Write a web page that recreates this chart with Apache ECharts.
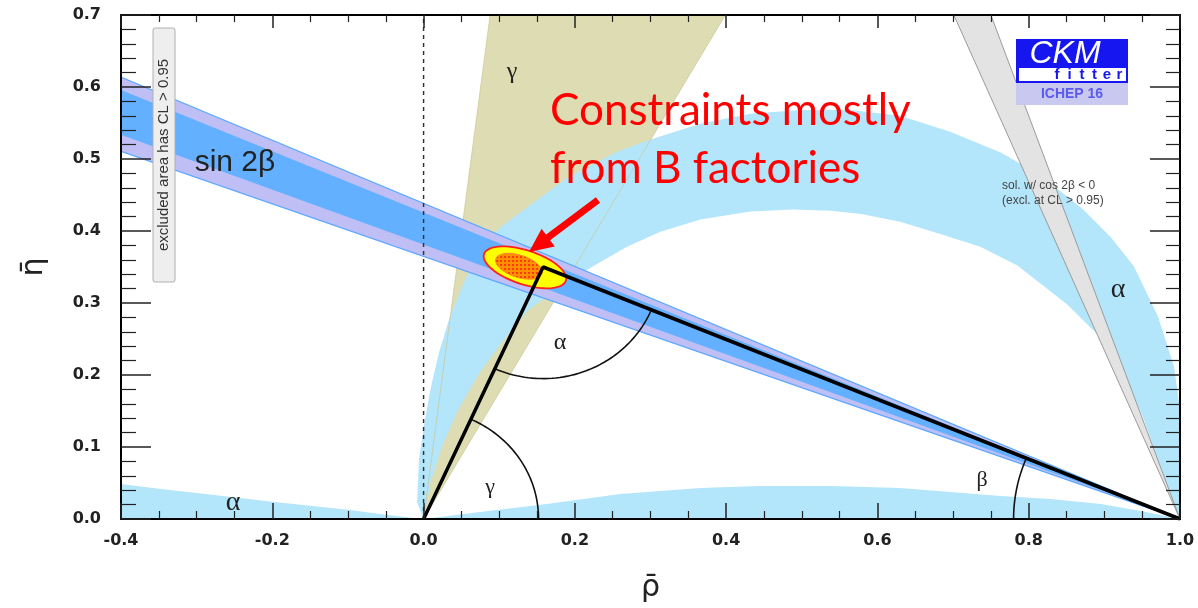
<!DOCTYPE html>
<html><head><meta charset="utf-8">
<script src="https://cdn.jsdelivr.net/npm/echarts@6/dist/echarts.min.js"></script>
<style>html,body{margin:0;padding:0;background:#fff}#c{width:1198px;height:608px}</style>
</head><body><div id="c"></div><script>
// ---- data (rho-bar, eta-bar) ----
const xTickLabels = ['-0.4','-0.2','0.0','0.2','0.4','0.6','0.8','1.0'];
const yTickLabels = ['0.0','0.1','0.2','0.3','0.4','0.5','0.6','0.7'];

const gammaWedge = [[0,0],[0.088,0.7],[0.399,0.7]];
const alphaOuter = [[0,0],[-0.0086,0.0236],[-0.006,0.083],[0.002,0.139],[0.0099,0.184],[0.0205,0.2315],[0.0337,0.277],[0.051,0.323],[0.0721,0.370],[0.101,0.405],[0.1276,0.4256],[0.190,0.474],[0.256,0.510],[0.303,0.528],[0.366,0.549],[0.432,0.563],[0.498,0.568],[0.564,0.568],[0.630,0.560],[0.696,0.538],[0.763,0.509],[0.816,0.477],[0.872,0.430],[0.908,0.392],[0.939,0.351],[0.971,0.281],[0.992,0.212],[1.0,0.152]];
const alphaInner = [[1.0,0.0],[0.996,0.010],[0.978,0.060],[0.952,0.139],[0.925,0.204],[0.895,0.252],[0.851,0.298],[0.785,0.352],[0.736,0.378],[0.683,0.396],[0.630,0.413],[0.577,0.424],[0.538,0.428],[0.489,0.430],[0.432,0.427],[0.366,0.416],[0.313,0.399],[0.269,0.378],[0.224,0.351],[0.177,0.320],[0.138,0.290],[0.107,0.250],[0.072,0.200],[0.045,0.150],[0.024,0.100],[0.009,0.050],[0,0]];
const alphaLens = [[0,0],[0.0747,0.0097],[0.163,0.0208],[0.260,0.0347],[0.366,0.043],[0.445,0.0457],[0.538,0.0457],[0.630,0.043],[0.696,0.0374],[0.763,0.032],[0.829,0.0277],[0.895,0.0208],[0.948,0.011],[1.0,0]];
const alphaLeft = [[-0.4,0],[-0.4,0.0485],[-0.35,0.042],[-0.3,0.036],[-0.2,0.024],[-0.1,0.013],[-0.05,0.006],[0,0]];
const graySol = [[1,0],[0.701,0.7],[0.750,0.7]];
const sin2bOuter = [[1,0],[-0.4,0.6137],[-0.4,0.5106]];
const sin2bInner = [[1,0],[-0.4,0.596],[-0.4,0.5337]];
const triangle = [[0,0],[0.158,0.350],[1,0]];
const zeroLine = [[0,0],[0,0.7]];
const fitCenter = [0.134, 0.3495];      // 95% CL ellipse centre
const fitAxes = [0.0569, 0.0225];       // semi-axes (rho units)
const fitCore = [0.126, 0.351];         // 68% CL core centre
const fitCoreAxes = [0.032, 0.0146];
const fitTilt = 18;                     // degrees
const arcRadii = {gamma:0.152, alpha:0.155, beta:0.22};

// ---- helpers ----
function poly(name, pts, fill, stroke, lw, z) {
  return {type:'custom', name, z, silent:true, clip:true, data:[[0,0]],
    renderItem:(p, api) => ({type:'polygon', shape:{points: pts.map(q => api.coord(q))},
      style:{fill, stroke: stroke || null, lineWidth: lw || 0}})};
}
function ang(a, b){ return Math.atan2(b[1]-a[1], b[0]-a[0]); }
function arc(center, r, a0, a1, z) {
  return {type:'custom', z, silent:true, clip:true, data:[[0,0]],
    renderItem:(p, api) => {
      const pts = [];
      for (let i = 0; i <= 48; i++) {
        const t = a0 + (a1 - a0) * i / 48;
        pts.push(api.coord([center[0] + r*Math.cos(t), center[1] + r*Math.sin(t)]));
      }
      return {type:'polyline', shape:{points:pts}, style:{stroke:'#111', lineWidth:1.6, fill:null}};
    }};
}
const pat = document.createElement('canvas'); pat.width = 4; pat.height = 4;
(function(){ const g = pat.getContext('2d'); g.fillStyle='#ff9000'; g.fillRect(0,0,4,4); g.fillStyle='#ff3a00'; g.fillRect(0,0,2,2); })();

function ellipsePts(api, c, ax, tiltDeg) {
  const cc = api.coord(c), s = api.size([1,0])[0], phi = tiltDeg*Math.PI/180;
  const rx = ax[0]*s, ry = ax[1]*s, pts = [];
  for (let i = 0; i < 60; i++) {
    const t = 2*Math.PI*i/60;
    pts.push([cc[0] + rx*Math.cos(t)*Math.cos(phi) - ry*Math.sin(t)*Math.sin(phi),
              cc[1] + rx*Math.cos(t)*Math.sin(phi) + ry*Math.sin(t)*Math.cos(phi)]);
  }
  return pts;
}

const O = triangle[0], A = triangle[1], B = triangle[2];
const series = [
  poly('gamma', gammaWedge, '#dedcb3', null, 0, 1),
  poly('alphaLeft', alphaLeft, '#b3e5fb', null, 0, 2),
  poly('alphaLens', alphaLens, '#b3e5fb', null, 0, 2),
  poly('alphaBand', alphaOuter.concat(alphaInner), '#b3e5fb', null, 0, 2),
  {type:'custom', z:3, silent:true, clip:true, data:[[0,0]],
    renderItem:(p, api) => ({type:'group', children:[
      {type:'line', shape:{x1:api.coord(gammaWedge[0])[0], y1:api.coord(gammaWedge[0])[1], x2:api.coord(gammaWedge[1])[0], y2:api.coord(gammaWedge[1])[1]}, style:{stroke:'rgba(200,200,150,0.7)', lineWidth:1}},
      {type:'line', shape:{x1:api.coord(gammaWedge[0])[0], y1:api.coord(gammaWedge[0])[1], x2:api.coord(gammaWedge[2])[0], y2:api.coord(gammaWedge[2])[1]}, style:{stroke:'rgba(200,200,150,0.7)', lineWidth:1}}
    ]})},
  poly('gray', graySol, '#e3e3e3', '#9a9a9a', 1, 4),
  poly('sin2bOuter', sin2bOuter, '#bfbff5', '#5aa8ff', 1.2, 5),
  poly('sin2bInner', sin2bInner, '#62b0ff', null, 0, 6),
  {type:'line', data: zeroLine, symbol:'none', z:7, silent:true,
    lineStyle:{color:'#333', width:1.5, type:[4,4]}},
  {type:'custom', z:8, silent:true, clip:true, data:[[0,0]],
    renderItem:(p, api) => ({type:'group', children:[
      {type:'polygon', shape:{points: ellipsePts(api, fitCenter, fitAxes, fitTilt)}, style:{fill:'#ffff00', stroke:'#ff2020', lineWidth:1.8}},
      {type:'polygon', shape:{points: ellipsePts(api, fitCore, fitCoreAxes, fitTilt)}, style:{fill:{image:pat, repeat:'repeat'}, stroke:'#ff7a30', lineWidth:1}}
    ]})},
  {type:'line', data: triangle, symbol:'none', z:9, silent:true,
    lineStyle:{color:'#000', width:3.5}},
  arc(O, arcRadii.gamma, 0, ang(O, A), 9),
  arc(A, arcRadii.alpha, ang(A, O), ang(A, B), 9),
  arc(B, arcRadii.beta, ang(B, A), Math.PI, 9)
];

const tickLab = {fontFamily:'DejaVu Sans', fontWeight:'bold', fontSize:16, color:'#222'};
const axLine = {show:true, onZero:false, lineStyle:{color:'#000', width:2}};
const option = {
  animation:false,
  grid:{left:121, right:18, top:15, bottom:88, containLabel:false},
  xAxis:[
    {type:'value', min:-0.4, max:1.0, interval:0.2, position:'bottom', z:20,
      axisLine:axLine, splitLine:{show:false},
      axisTick:{show:true, inside:true, length:16, lineStyle:{color:'#222', width:1.5}},
      minorTick:{show:true, splitNumber:4, length:8, lineStyle:{color:'#222', width:1.2}},
      axisLabel:Object.assign({margin:14, formatter:v => xTickLabels[Math.round((v+0.4)/0.2)]}, tickLab),
      name:'\u03C1\u0304', nameLocation:'middle', nameGap:54,
      nameTextStyle:{fontFamily:'DejaVu Sans', fontSize:30, color:'#222'}},
    {type:'value', min:-0.4, max:1.0, interval:0.2, position:'top', z:20,
      axisLine:axLine, splitLine:{show:false}, axisLabel:{show:false},
      axisTick:{show:true, inside:true, length:13, lineStyle:{color:'#222', width:1.5}},
      minorTick:{show:true, splitNumber:4, length:7, lineStyle:{color:'#222', width:1.2}}}
  ],
  yAxis:[
    {type:'value', min:0, max:0.7, interval:0.1, position:'left', z:20,
      axisLine:axLine, splitLine:{show:false},
      axisTick:{show:true, inside:true, length:30, lineStyle:{color:'#222', width:1.5}},
      minorTick:{show:true, splitNumber:5, length:15, lineStyle:{color:'#222', width:1.2}},
      axisLabel:Object.assign({margin:20, formatter:v => yTickLabels[Math.round(v/0.1)]}, tickLab),
      name:'\u03B7\u0304', nameLocation:'middle', nameGap:72, nameRotate:90,
      nameTextStyle:{fontFamily:'DejaVu Sans', fontSize:30, color:'#222'}},
    {type:'value', min:0, max:0.7, interval:0.1, position:'right', z:20,
      axisLine:axLine, splitLine:{show:false}, axisLabel:{show:false},
      axisTick:{show:true, inside:true, length:30, lineStyle:{color:'#222', width:1.5}},
      minorTick:{show:true, splitNumber:5, length:14, lineStyle:{color:'#222', width:1.2}}}
  ],
  series,
  graphic:[]
};

const serif = 'Liberation Serif';
function glabel(t, x, y, size, fam){ return {type:'text', x, y, z:50, silent:true,
  style:{text:t, fontFamily:fam||serif, fontSize:size, fill:'#222', align:'center', verticalAlign:'middle'}}; }
const G = [
  glabel('\u03B3', 490, 487, 22),
  glabel('\u03B1', 560, 343, 24),
  glabel('\u03B2', 982, 480, 22),
  glabel('\u03B1', 1118, 290, 28),
  glabel('\u03B1', 233, 503, 28),
  glabel('\u03B3', 512, 72, 24),
  glabel('sin 2\u03B2', 235, 163, 30, 'Liberation Sans'),
  // excluded-area box
  {type:'rect', z:50, silent:true, shape:{x:153, y:28, width:22, height:254, r:2}, style:{fill:'#eeeeee', stroke:'#b0b0b0', lineWidth:1}},
  {type:'text', z:51, silent:true, x:164, y:155, rotation:Math.PI/2,
    style:{text:'excluded area has CL > 0.95', fontFamily:'Liberation Sans', fontSize:15, fill:'#333', align:'center', verticalAlign:'middle'}},
  // cos2beta note
  {type:'text', z:50, silent:true, x:1002, y:186, style:{text:'sol. w/ cos 2\u03B2 < 0', fontFamily:'Liberation Sans', fontSize:12, fill:'#444', align:'left', verticalAlign:'middle'}},
  {type:'text', z:50, silent:true, x:1002, y:201, style:{text:'(excl. at CL > 0.95)', fontFamily:'Liberation Sans', fontSize:12, fill:'#444', align:'left', verticalAlign:'middle'}},
  // CKMfitter logo
  {type:'rect', z:50, silent:true, shape:{x:1016, y:39, width:112, height:44}, style:{fill:'#1616f0'}},
  {type:'text', z:51, silent:true, x:1065, y:54, style:{text:'CKM', fontFamily:'Liberation Sans', fontStyle:'italic', fontSize:32, fill:'#fff', align:'center', verticalAlign:'middle'}},
  {type:'rect', z:51, silent:true, shape:{x:1019, y:68, width:107, height:13}, style:{fill:'#fff'}},
  {type:'rect', z:50, silent:true, shape:{x:1016, y:83, width:112, height:22}, style:{fill:'#c8c8f0'}},
  {type:'text', z:51, silent:true, x:1072, y:94, style:{text:'ICHEP 16', fontFamily:'Liberation Sans', fontWeight:'bold', fontSize:14, fill:'#5a5aee', align:'center', verticalAlign:'middle'}},
  // red annotation
  {type:'text', z:60, silent:true, x:550, y:111, style:{text:'Constraints mostly', fontFamily:'Lato', fontSize:44, fill:'#ff0000', align:'left', verticalAlign:'middle'}},
  {type:'text', z:60, silent:true, x:550, y:169, style:{text:'from B factories', fontFamily:'Lato', fontSize:44, fill:'#ff0000', align:'left', verticalAlign:'middle'}},
  {type:'line', z:60, silent:true, shape:{x1:598, y1:200, x2:546, y2:239}, style:{stroke:'#ff0000', lineWidth:7}},
  {type:'polygon', z:60, silent:true, shape:{points:[[529,252],[541.6,228.8],[554.8,246.4]]}, style:{fill:'#ff0000'}}
];
'fitter'.split('').forEach((ch, i) => G.push({type:'text', z:52, silent:true, x:1057 + i*12.5, y:75,
  style:{text:ch, fontFamily:'Liberation Sans', fontWeight:'bold', fontSize:15, fill:'#1616f0', align:'center', verticalAlign:'middle'}}));
option.graphic = G;

const chart = echarts.init(document.getElementById('c'));
chart.setOption(option);
</script></body></html>
